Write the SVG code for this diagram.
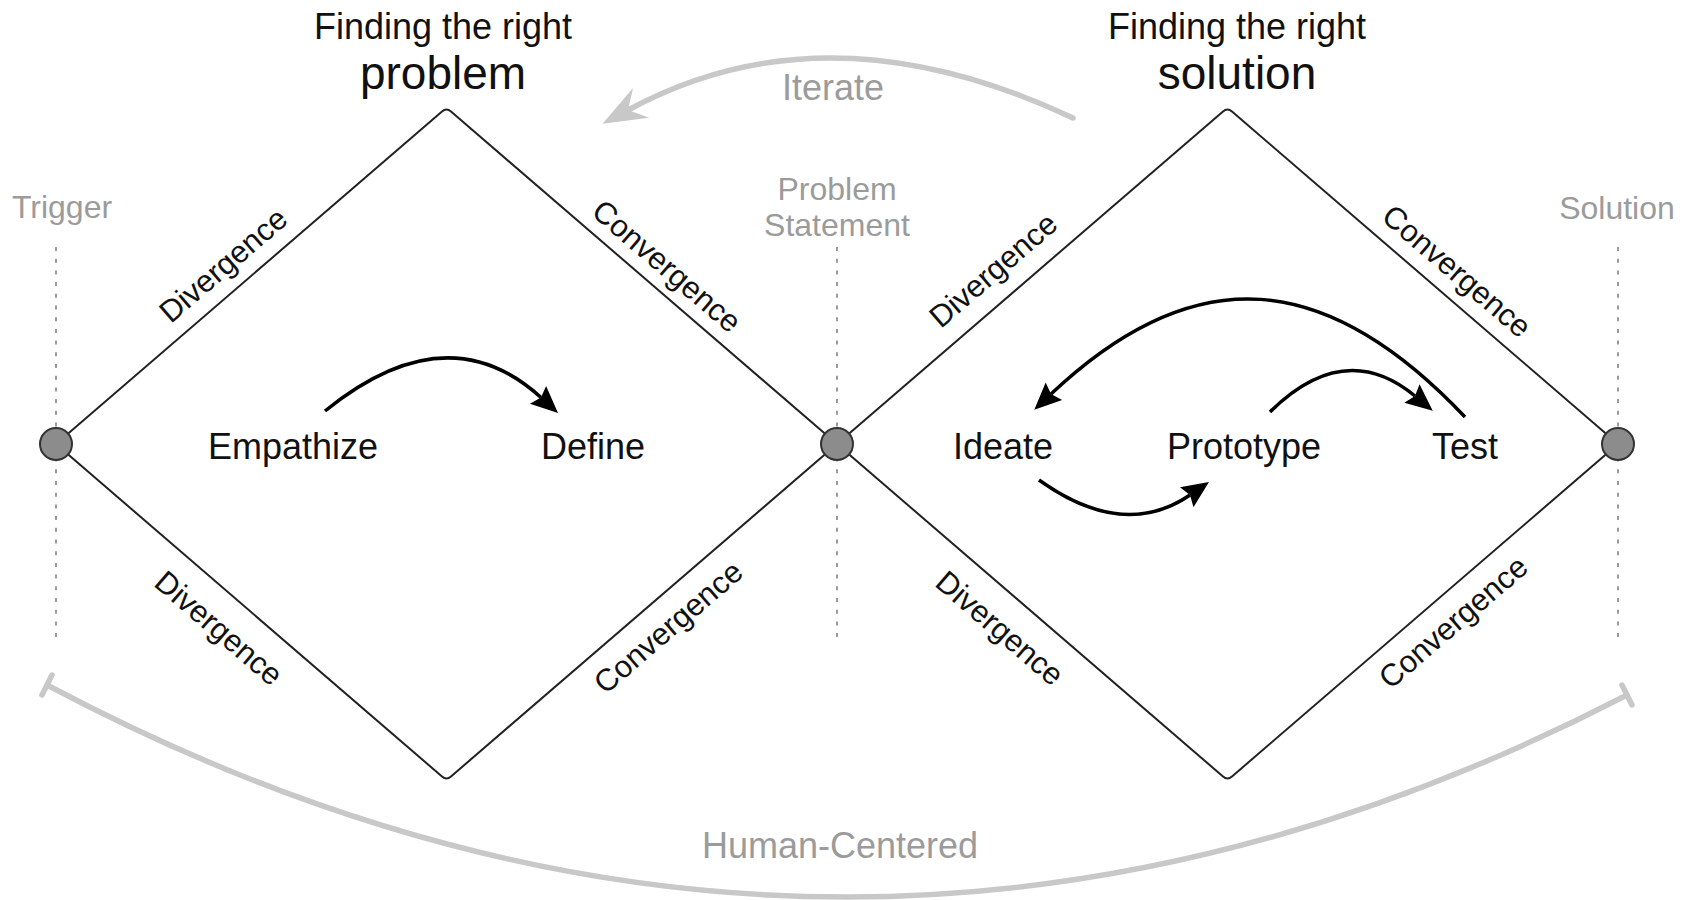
<svg xmlns="http://www.w3.org/2000/svg" width="1694" height="900" viewBox="0 0 1694 900">
<style>
text { font-family: "Liberation Sans", Arial, Helvetica, sans-serif; }
.title { font-size: 36px; fill: #111; text-anchor: middle; }
.big { font-size: 46px; fill: #111; text-anchor: middle; }
.step { font-size: 36px; fill: #111; text-anchor: middle; }
.gray { font-size: 32px; fill: #9b9b9b; text-anchor: middle; }
.phase { font-size: 31px; fill: #111; text-anchor: middle; }
.edge { fill: none; stroke: #222; stroke-width: 2; stroke-linejoin: round; }
.guide { stroke: #9a9a9a; stroke-width: 2; stroke-dasharray: 4 7.7; fill: none; }
.dot { fill: #8c8c8c; stroke: #333; stroke-width: 2; }
.arrow { fill: none; stroke: #000; stroke-width: 3.5; marker-end: url(#ah); }
.soft { fill: none; stroke: #c8c8c8; stroke-width: 5.5; stroke-linecap: round; }
</style>
<defs>
<marker id="ah" markerUnits="userSpaceOnUse" viewBox="0 0 30 26" markerWidth="30" markerHeight="26" refX="4" refY="13" orient="auto" overflow="visible">
<path d="M4,13 L0,1 L27,13 L0,25 Z" fill="#000"/>
</marker>
<marker id="gh" markerUnits="userSpaceOnUse" viewBox="0 0 44 34" markerWidth="44" markerHeight="34" refX="15" refY="17" orient="auto" overflow="visible">
<path d="M15,17 L0,0 L44,17 L0,34 Z" fill="#c8c8c8"/>
</marker>
</defs>
<rect width="1694" height="900" fill="#fff"/>

<g id="guides">
<line class="guide" x1="56" y1="247" x2="56" y2="641"/>
<line class="guide" x1="837" y1="247" x2="837" y2="641"/>
<line class="guide" x1="1618" y1="247" x2="1618" y2="641"/>
</g>

<g id="diamond-problem">
<path class="edge" d="M56,444 L442,111.5 Q446.5,107.6 451,111.5 L837,444 L451,776.5 Q446.5,780.4 442,776.5 Z"/>
<text class="phase" transform="translate(223,265) rotate(-40.7)" dy="0.35em">Divergence</text>
<text class="phase" transform="translate(667,266) rotate(40.7)" dy="0.35em">Convergence</text>
<text class="phase" transform="translate(219,628) rotate(40.7)" dy="0.35em">Divergence</text>
<text class="phase" transform="translate(668,627) rotate(-40.7)" dy="0.35em">Convergence</text>
</g>

<g id="diamond-solution">
<path class="edge" d="M837,444 L1223,111.5 Q1227.5,107.6 1232,111.5 L1618,444 L1232,776.5 Q1227.5,780.4 1223,776.5 Z"/>
<text class="phase" transform="translate(993,270) rotate(-40.7)" dy="0.35em">Divergence</text>
<text class="phase" transform="translate(1457,271) rotate(40.7)" dy="0.35em">Convergence</text>
<text class="phase" transform="translate(1000,628) rotate(40.7)" dy="0.35em">Divergence</text>
<text class="phase" transform="translate(1453,622) rotate(-40.7)" dy="0.35em">Convergence</text>
</g>

<g id="title-problem">
<text class="title" x="443" y="39">Finding the right</text>
<text class="big" x="443" y="89">problem</text>
</g>
<g id="title-solution">
<text class="title" x="1237" y="39">Finding the right</text>
<text class="big" x="1237" y="89">solution</text>
</g>

<g id="connectors">
<path class="soft" d="M1073,118 Q827,2 628,110" marker-end="url(#gh)"/>
<path class="soft" d="M47,685 Q837,1104 1627,695"/>
<line class="soft" x1="52" y1="675" x2="42" y2="695"/>
<line class="soft" x1="1622" y1="685" x2="1632" y2="705"/>
<path class="arrow" d="M325,411 Q447,312 541,397.5"/>
<path class="arrow" d="M1039,480 Q1123.5,540.5 1190,495"/>
<path class="arrow" d="M1270,412 Q1344.7,338 1415,396"/>
<path class="arrow" d="M1465,417 C1327,271 1196,257 1051,394"/>
</g>

<g id="label-iterate">
<text class="step" x="833" y="100" style="fill:#9b9b9b">Iterate</text>
</g>
<g id="label-human-centered">
<text class="step" x="840" y="858" style="fill:#9b9b9b">Human-Centered</text>
</g>

<g id="node-trigger">
<text class="gray" x="62" y="218">Trigger</text>
<circle class="dot" cx="56" cy="444" r="16"/>
</g>
<g id="node-problem-statement">
<text class="gray" x="837" y="200">Problem</text>
<text class="gray" x="837" y="236">Statement</text>
<circle class="dot" cx="837" cy="444" r="16"/>
</g>
<g id="node-solution">
<text class="gray" x="1617" y="219">Solution</text>
<circle class="dot" cx="1618" cy="444" r="16"/>
</g>

<g id="node-empathize"><text class="step" x="293" y="459">Empathize</text></g>
<g id="node-define"><text class="step" x="593" y="459">Define</text></g>
<g id="node-ideate"><text class="step" x="1003" y="459">Ideate</text></g>
<g id="node-prototype"><text class="step" x="1244" y="459">Prototype</text></g>
<g id="node-test"><text class="step" x="1465" y="459">Test</text></g>
</svg>
